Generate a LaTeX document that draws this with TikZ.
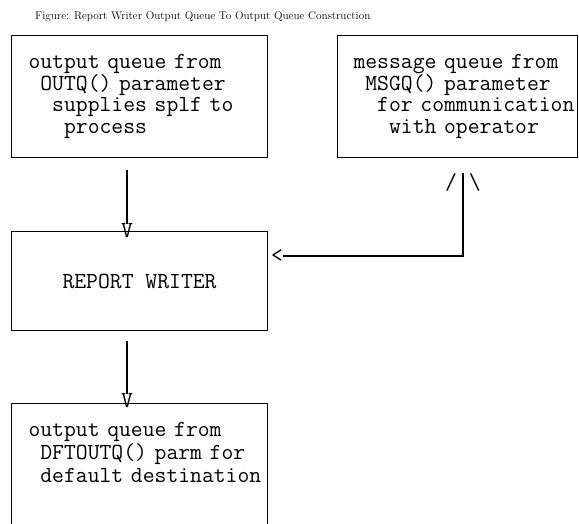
\documentclass[tikz,border=0pt]{standalone}
\begin{document}
\begin{tikzpicture}[x=1pt,y=-1pt,
  mono/.style={font=\fontsize{23}{21.7}\selectfont\ttfamily},
  qbox/.style={draw, line width=1.1pt, mono, anchor=north west, inner sep=0pt, align=left},
  tip/.style={mono, inner sep=0pt},
  conn/.style={line width=1.1pt},
  titlefont/.style={font=\fontsize{11.2}{12}\selectfont, inner sep=0pt, anchor=base west}]
\useasboundingbox (0,0) rectangle (579,523);
\clip (0,0) rectangle (579,523);

\node[titlefont] (title) at (35,19) {Figure: Report Writer Output Queue To Output Queue Construction};

\node[qbox, text width=222pt, inner xsep=17pt, minimum height=122pt] (outq) at (11,35)
  {\mbox{output queue from}\\\mbox{\phantom{x}OUTQ() parameter}\\\mbox{\phantom{xx}supplies splf to}\\\mbox{\phantom{xxx}process}};
\node[qbox, text width=208pt, inner xsep=16pt, minimum height=122pt] (msgq) at (337,35)
  {\mbox{message queue from}\\\mbox{\phantom{x}MSGQ() parameter}\\\mbox{\phantom{xx}for communication}\\\mbox{\phantom{xxx}with operator}};
\node[qbox, align=center, minimum width=256pt, minimum height=99pt] (rw) at (11,231) {REPORT WRITER};
\node[qbox, font=\fontsize{23}{23.3}\selectfont\ttfamily, text width=222pt, inner xsep=17pt, inner ysep=18.6pt] (dft) at (11,403)
  {\mbox{output queue from}\\\mbox{\phantom{x}DFTOUTQ() parm for}\\\mbox{\phantom{x}default destination}\\~\\~};

\node[tip] (v1) at (127,231) {V};
\node[tip] (v2) at (127,401) {V};
\node[tip] (upar) at (463,182.5) {/\phantom{|}\textbackslash};
\node[tip] (lt) at (277,256) {<};

\draw[conn] ([yshift=-12pt]v1 |- outq.south) -- (v1.north);
\draw[conn] ([yshift=-10pt]v2 |- rw.south) -- (v2.north);
\draw[conn] ([yshift=-15pt]upar |- msgq.south) |- (lt.east);
\end{tikzpicture}
\end{document}
